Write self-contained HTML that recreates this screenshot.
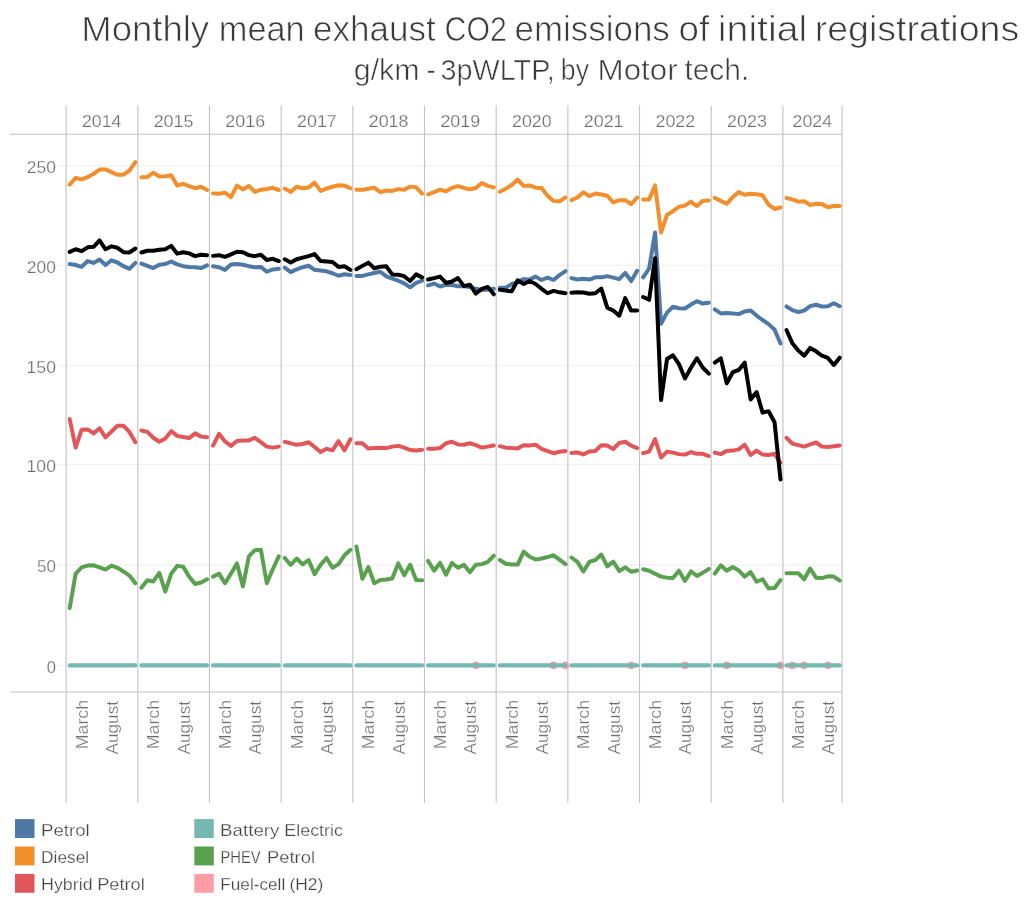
<!DOCTYPE html>
<html><head><meta charset="utf-8"><title>Monthly mean exhaust CO2 emissions</title>
<style>html,body{margin:0;padding:0;background:#fff;}body{width:1024px;height:898px;overflow:hidden;font-family:"Liberation Sans",sans-serif;}svg{display:block;will-change:transform;}.t{filter:grayscale(1);}text{font-family:"Liberation Sans",sans-serif;}</style></head><body>
<svg width="1024" height="898" viewBox="0 0 1024 898">
<rect width="1024" height="898" fill="#ffffff"/>
<g class="t" fill="#3a3a3a" stroke="#ffffff" stroke-width="0.7">
<text x="81.25" y="40.60" font-size="34.5" textLength="127.85" lengthAdjust="spacingAndGlyphs">Monthly</text>
<text x="218.75" y="40.60" font-size="34.5" textLength="85.98" lengthAdjust="spacingAndGlyphs">mean</text>
<text x="313.00" y="40.60" font-size="34.5" textLength="122.78" lengthAdjust="spacingAndGlyphs">exhaust</text>
<text x="444.58" y="40.60" font-size="34.5" textLength="62.25" lengthAdjust="spacingAndGlyphs">CO2</text>
<text x="514.51" y="40.60" font-size="34.5" textLength="155.33" lengthAdjust="spacingAndGlyphs">emissions</text>
<text x="678.55" y="40.60" font-size="34.5" textLength="30.73" lengthAdjust="spacingAndGlyphs">of</text>
<text x="717.85" y="40.60" font-size="34.5" textLength="89.44" lengthAdjust="spacingAndGlyphs">initial</text>
<text x="814.75" y="40.60" font-size="34.5" textLength="204.42" lengthAdjust="spacingAndGlyphs">registrations</text>
</g><g class="t" fill="#3a3a3a" stroke="#ffffff" stroke-width="0.55">
<text x="353.75" y="80.40" font-size="28.7" textLength="65.93" lengthAdjust="spacingAndGlyphs">g/km</text>
<text x="426.62" y="80.40" font-size="28.7" textLength="9.40" lengthAdjust="spacingAndGlyphs">-</text>
<text x="440.60" y="80.40" font-size="28.7" textLength="114.05" lengthAdjust="spacingAndGlyphs">3pWLTP,</text>
<text x="560.83" y="80.40" font-size="28.7" textLength="28.17" lengthAdjust="spacingAndGlyphs">by</text>
<text x="597.55" y="80.40" font-size="28.7" textLength="80.10" lengthAdjust="spacingAndGlyphs">Motor</text>
<text x="684.40" y="80.40" font-size="28.7" textLength="64.80" lengthAdjust="spacingAndGlyphs">tech.</text>
</g>
<g stroke="#f1f1f1" stroke-width="1.3">
<line x1="58" y1="565.00" x2="842.06" y2="565.00"/>
<line x1="58" y1="464.60" x2="842.06" y2="464.60"/>
<line x1="58" y1="365.50" x2="842.06" y2="365.50"/>
<line x1="58" y1="265.30" x2="842.06" y2="265.30"/>
<line x1="58" y1="165.80" x2="842.06" y2="165.80"/>
<line x1="58" y1="665.40" x2="66.10" y2="665.40"/>
</g>
<g stroke="#c2c2c2" stroke-width="1.1">
<line x1="66.10" y1="105.6" x2="66.10" y2="802.8"/>
<line x1="137.78" y1="105.6" x2="137.78" y2="802.8"/>
<line x1="209.46" y1="105.6" x2="209.46" y2="802.8"/>
<line x1="281.14" y1="105.6" x2="281.14" y2="802.8"/>
<line x1="352.82" y1="105.6" x2="352.82" y2="802.8"/>
<line x1="424.50" y1="105.6" x2="424.50" y2="802.8"/>
<line x1="496.18" y1="105.6" x2="496.18" y2="802.8"/>
<line x1="567.86" y1="105.6" x2="567.86" y2="802.8"/>
<line x1="639.54" y1="105.6" x2="639.54" y2="802.8"/>
<line x1="711.22" y1="105.6" x2="711.22" y2="802.8"/>
<line x1="782.90" y1="105.6" x2="782.90" y2="802.8"/>
<line x1="842.06" y1="105.6" x2="842.06" y2="802.8"/>
<line x1="10.2" y1="134.3" x2="842.06" y2="134.3"/>
<line x1="10.2" y1="692.05" x2="842.06" y2="692.05"/>
</g>
<g class="t" fill="#6c6c6c" stroke="#ffffff" stroke-width="0.25">
<text x="82.01" y="127.30" font-size="17.25" textLength="39.47" lengthAdjust="spacingAndGlyphs">2014</text>
<text x="153.68" y="127.30" font-size="17.25" textLength="39.76" lengthAdjust="spacingAndGlyphs">2015</text>
<text x="225.36" y="127.30" font-size="17.25" textLength="39.76" lengthAdjust="spacingAndGlyphs">2016</text>
<text x="297.04" y="127.30" font-size="17.25" textLength="39.76" lengthAdjust="spacingAndGlyphs">2017</text>
<text x="368.72" y="127.30" font-size="17.25" textLength="39.76" lengthAdjust="spacingAndGlyphs">2018</text>
<text x="440.40" y="127.30" font-size="17.25" textLength="39.76" lengthAdjust="spacingAndGlyphs">2019</text>
<text x="512.09" y="127.30" font-size="17.25" textLength="39.47" lengthAdjust="spacingAndGlyphs">2020</text>
<text x="583.76" y="127.30" font-size="17.25" textLength="39.76" lengthAdjust="spacingAndGlyphs">2021</text>
<text x="655.44" y="127.30" font-size="17.25" textLength="39.76" lengthAdjust="spacingAndGlyphs">2022</text>
<text x="727.12" y="127.30" font-size="17.25" textLength="39.76" lengthAdjust="spacingAndGlyphs">2023</text>
<text x="792.55" y="127.30" font-size="17.25" textLength="39.47" lengthAdjust="spacingAndGlyphs">2024</text>
</g>
<g class="t" fill="#6c6c6c" stroke="#ffffff" stroke-width="0.25">
<text x="46.68" y="672.80" font-size="17.25" textLength="9.23" lengthAdjust="spacingAndGlyphs">0</text>
<text x="37.07" y="572.40" font-size="17.25" textLength="18.85" lengthAdjust="spacingAndGlyphs">50</text>
<text x="26.60" y="472.00" font-size="17.25" textLength="29.34" lengthAdjust="spacingAndGlyphs">100</text>
<text x="26.60" y="372.90" font-size="17.25" textLength="29.34" lengthAdjust="spacingAndGlyphs">150</text>
<text x="26.88" y="272.70" font-size="17.25" textLength="29.05" lengthAdjust="spacingAndGlyphs">200</text>
<text x="26.88" y="173.20" font-size="17.25" textLength="29.05" lengthAdjust="spacingAndGlyphs">250</text>
</g>
<g class="t" fill="#6c6c6c" stroke="#ffffff" stroke-width="0.25">
<text x="-749.19" y="0.00" font-size="16.6" textLength="49.28" lengthAdjust="spacingAndGlyphs" transform="translate(87.53 0) rotate(-90)">March</text>
<text x="-754.50" y="0.00" font-size="16.6" textLength="53.54" lengthAdjust="spacingAndGlyphs" transform="translate(118.00 0) rotate(-90)">August</text>
<text x="-749.19" y="0.00" font-size="16.6" textLength="49.28" lengthAdjust="spacingAndGlyphs" transform="translate(159.21 0) rotate(-90)">March</text>
<text x="-754.50" y="0.00" font-size="16.6" textLength="53.54" lengthAdjust="spacingAndGlyphs" transform="translate(189.68 0) rotate(-90)">August</text>
<text x="-749.19" y="0.00" font-size="16.6" textLength="49.28" lengthAdjust="spacingAndGlyphs" transform="translate(230.89 0) rotate(-90)">March</text>
<text x="-754.50" y="0.00" font-size="16.6" textLength="53.54" lengthAdjust="spacingAndGlyphs" transform="translate(261.36 0) rotate(-90)">August</text>
<text x="-749.19" y="0.00" font-size="16.6" textLength="49.28" lengthAdjust="spacingAndGlyphs" transform="translate(302.57 0) rotate(-90)">March</text>
<text x="-754.50" y="0.00" font-size="16.6" textLength="53.54" lengthAdjust="spacingAndGlyphs" transform="translate(333.04 0) rotate(-90)">August</text>
<text x="-749.19" y="0.00" font-size="16.6" textLength="49.28" lengthAdjust="spacingAndGlyphs" transform="translate(374.25 0) rotate(-90)">March</text>
<text x="-754.50" y="0.00" font-size="16.6" textLength="53.54" lengthAdjust="spacingAndGlyphs" transform="translate(404.72 0) rotate(-90)">August</text>
<text x="-749.19" y="0.00" font-size="16.6" textLength="49.28" lengthAdjust="spacingAndGlyphs" transform="translate(445.93 0) rotate(-90)">March</text>
<text x="-754.50" y="0.00" font-size="16.6" textLength="53.54" lengthAdjust="spacingAndGlyphs" transform="translate(476.40 0) rotate(-90)">August</text>
<text x="-749.19" y="0.00" font-size="16.6" textLength="49.28" lengthAdjust="spacingAndGlyphs" transform="translate(517.61 0) rotate(-90)">March</text>
<text x="-754.50" y="0.00" font-size="16.6" textLength="53.54" lengthAdjust="spacingAndGlyphs" transform="translate(548.08 0) rotate(-90)">August</text>
<text x="-749.19" y="0.00" font-size="16.6" textLength="49.28" lengthAdjust="spacingAndGlyphs" transform="translate(589.29 0) rotate(-90)">March</text>
<text x="-754.50" y="0.00" font-size="16.6" textLength="53.54" lengthAdjust="spacingAndGlyphs" transform="translate(619.76 0) rotate(-90)">August</text>
<text x="-749.19" y="0.00" font-size="16.6" textLength="49.28" lengthAdjust="spacingAndGlyphs" transform="translate(660.97 0) rotate(-90)">March</text>
<text x="-754.50" y="0.00" font-size="16.6" textLength="53.54" lengthAdjust="spacingAndGlyphs" transform="translate(691.44 0) rotate(-90)">August</text>
<text x="-749.19" y="0.00" font-size="16.6" textLength="49.28" lengthAdjust="spacingAndGlyphs" transform="translate(732.65 0) rotate(-90)">March</text>
<text x="-754.50" y="0.00" font-size="16.6" textLength="53.54" lengthAdjust="spacingAndGlyphs" transform="translate(763.12 0) rotate(-90)">August</text>
<text x="-749.19" y="0.00" font-size="16.6" textLength="49.28" lengthAdjust="spacingAndGlyphs" transform="translate(804.19 0) rotate(-90)">March</text>
<text x="-754.50" y="0.00" font-size="16.6" textLength="53.54" lengthAdjust="spacingAndGlyphs" transform="translate(834.37 0) rotate(-90)">August</text>
</g>
<g fill="#ff9da7">
<circle cx="475.87" cy="665.40" r="3.8"/>
<circle cx="553.53" cy="665.40" r="3.8"/>
<circle cx="565.47" cy="665.40" r="3.8"/>
<circle cx="631.18" cy="665.40" r="3.8"/>
<circle cx="684.94" cy="665.40" r="3.8"/>
<circle cx="726.75" cy="665.40" r="3.8"/>
<circle cx="780.51" cy="665.40" r="3.8"/>
<circle cx="792.37" cy="665.40" r="3.8"/>
<circle cx="804.21" cy="665.40" r="3.8"/>
<circle cx="827.87" cy="665.40" r="3.8"/>
</g>
<path d="M69.69 665.40 L75.66 665.40 L81.63 665.40 L87.61 665.40 L93.58 665.40 L99.55 665.40 L105.53 665.40 L111.50 665.40 L117.47 665.40 L123.45 665.40 L129.42 665.40 L135.39 665.40 M141.37 665.40 L147.34 665.40 L153.31 665.40 L159.29 665.40 L165.26 665.40 L171.23 665.40 L177.21 665.40 L183.18 665.40 L189.15 665.40 L195.13 665.40 L201.10 665.40 L207.07 665.40 M213.05 665.40 L219.02 665.40 L224.99 665.40 L230.97 665.40 L236.94 665.40 L242.91 665.40 L248.89 665.40 L254.86 665.40 L260.83 665.40 L266.81 665.40 L272.78 665.40 L278.75 665.40 M284.73 665.40 L290.70 665.40 L296.67 665.40 L302.65 665.40 L308.62 665.40 L314.59 665.40 L320.57 665.40 L326.54 665.40 L332.51 665.40 L338.49 665.40 L344.46 665.40 L350.43 665.40 M356.41 665.40 L362.38 665.40 L368.35 665.40 L374.33 665.40 L380.30 665.40 L386.27 665.40 L392.25 665.40 L398.22 665.40 L404.19 665.40 L410.17 665.40 L416.14 665.40 L422.11 665.40 M428.09 665.40 L434.06 665.40 L440.03 665.40 L446.01 665.40 L451.98 665.40 L457.95 665.40 L463.93 665.40 L469.90 665.40 L475.87 665.40 L481.85 665.40 L487.82 665.40 L493.79 665.40 M499.77 665.40 L505.74 665.40 L511.71 665.40 L517.69 665.40 L523.66 665.40 L529.63 665.40 L535.61 665.40 L541.58 665.40 L547.55 665.40 L553.53 665.40 L559.50 665.40 L565.47 665.40 M571.45 665.40 L577.42 665.40 L583.39 665.40 L589.37 665.40 L595.34 665.40 L601.31 665.40 L607.29 665.40 L613.26 665.40 L619.23 665.40 L625.21 665.40 L631.18 665.40 L637.15 665.40 M643.13 665.40 L649.10 665.40 L655.07 665.40 L661.05 665.40 L667.02 665.40 L672.99 665.40 L678.97 665.40 L684.94 665.40 L690.91 665.40 L696.89 665.40 L702.86 665.40 L708.83 665.40 M714.81 665.40 L720.78 665.40 L726.75 665.40 L732.73 665.40 L738.70 665.40 L744.67 665.40 L750.65 665.40 L756.62 665.40 L762.59 665.40 L768.57 665.40 L774.54 665.40 L780.51 665.40 M786.46 665.40 L792.37 665.40 L798.29 665.40 L804.21 665.40 L810.12 665.40 L816.04 665.40 L821.95 665.40 L827.87 665.40 L833.79 665.40 L839.70 665.40" fill="none" stroke="#76b7b2" stroke-width="4.2" stroke-linecap="round" stroke-linejoin="round"/>
<path d="M69.69 607.94 L75.66 573.68 L81.63 567.35 L87.61 565.59 L93.58 565.29 L99.55 567.35 L105.53 569.56 L111.50 565.59 L117.47 567.79 L123.45 571.47 L129.42 575.59 L135.39 583.24 M141.37 587.65 L147.34 580.29 L153.31 581.47 L159.29 572.94 L165.26 591.62 L171.23 573.68 L177.21 565.88 L183.18 566.76 L189.15 576.62 L195.13 583.97 L201.10 582.50 L207.07 579.26 M213.05 576.62 L219.02 573.68 L224.99 583.24 L230.97 573.68 L236.94 563.38 L242.91 586.47 L248.89 556.47 L254.86 550.15 L260.83 549.71 L266.81 583.24 L272.78 569.26 L278.75 556.32 M284.73 557.94 L290.70 564.85 L296.67 558.53 L302.65 564.41 L308.62 560.00 L314.59 574.12 L320.57 564.85 L326.54 557.94 L332.51 567.79 L338.49 564.12 L344.46 555.29 L350.43 549.85 M356.41 546.47 L362.38 578.82 L368.35 567.06 L374.33 583.24 L380.30 580.00 L386.27 579.56 L392.25 578.53 L398.22 563.38 L404.19 575.15 L410.17 564.85 L416.14 580.00 L422.11 580.29 M428.09 560.88 L434.06 570.74 L440.03 562.94 L446.01 574.71 L451.98 562.94 L457.95 567.79 L463.93 564.85 L469.90 572.21 L475.87 564.85 L481.85 564.12 L487.82 561.91 L493.79 555.74 M499.77 560.00 L505.74 563.68 L511.71 564.41 L517.69 564.56 L523.66 551.62 L529.63 556.76 L535.61 559.41 L541.58 558.53 L547.55 557.06 L553.53 555.29 L559.50 559.71 L565.47 564.12 M571.45 557.50 L577.42 561.91 L583.39 571.47 L589.37 561.91 L595.34 560.00 L601.31 554.56 L607.29 566.32 L613.26 561.62 L619.23 571.03 L625.21 567.35 L631.18 571.76 L637.15 570.44 M643.13 569.26 L649.10 570.74 L655.07 573.68 L661.05 576.62 L667.02 577.65 L672.99 578.09 L678.97 570.74 L684.94 581.03 L690.91 571.47 L696.89 575.88 L702.86 572.65 L708.83 568.97 M714.81 573.68 L720.78 565.29 L726.75 570.74 L732.73 567.06 L738.70 570.44 L744.67 576.62 L750.65 572.21 L756.62 581.76 L762.59 579.26 L768.57 588.38 L774.54 587.94 L780.51 580.00 M786.46 573.24 L792.37 573.24 L798.29 573.24 L804.21 579.26 L810.12 568.53 L816.04 577.65 L821.95 578.09 L827.87 576.32 L833.79 576.62 L839.70 580.59" fill="none" stroke="#59a14f" stroke-width="4.0" stroke-linecap="round" stroke-linejoin="round"/>
<path d="M69.69 419.12 L75.66 447.65 L81.63 429.71 L87.61 429.41 L93.58 433.38 L99.55 428.24 L105.53 437.35 L111.50 431.47 L117.47 425.74 L123.45 425.74 L129.42 431.91 L135.39 442.21 M141.37 430.44 L147.34 431.91 L153.31 437.79 L159.29 441.76 L165.26 438.53 L171.23 431.18 L177.21 435.88 L183.18 437.06 L189.15 438.09 L195.13 433.38 L201.10 436.62 L207.07 437.35 M213.05 445.59 L219.02 433.82 L224.99 441.47 L230.97 445.88 L236.94 441.03 L242.91 440.44 L248.89 440.44 L254.86 437.79 L260.83 442.21 L266.81 446.62 L272.78 447.65 L278.75 446.62 M284.73 441.76 L290.70 443.38 L296.67 444.85 L302.65 443.97 L308.62 442.21 L314.59 447.06 L320.57 452.06 L326.54 448.82 L332.51 450.29 L338.49 441.18 L344.46 450.29 L350.43 439.26 M356.41 443.24 L362.38 443.24 L368.35 448.53 L374.33 448.09 L380.30 447.79 L386.27 448.09 L392.25 446.62 L398.22 445.88 L404.19 447.65 L410.17 450.00 L416.14 450.59 L422.11 449.85 M428.09 448.82 L434.06 448.82 L440.03 448.09 L446.01 443.24 L451.98 441.76 L457.95 444.41 L463.93 444.71 L469.90 443.24 L475.87 445.15 L481.85 447.65 L487.82 446.62 L493.79 445.59 M499.77 446.18 L505.74 447.65 L511.71 448.09 L517.69 448.38 L523.66 445.15 L529.63 445.59 L535.61 444.71 L541.58 448.82 L547.55 451.03 L553.53 453.24 L559.50 451.76 L565.47 451.03 M571.45 452.94 L577.42 452.50 L583.39 454.41 L589.37 451.47 L595.34 451.03 L601.31 445.15 L607.29 445.59 L613.26 449.12 L619.23 442.94 L625.21 441.76 L631.18 445.59 L637.15 448.09 M643.13 453.09 L649.10 451.62 L655.07 439.12 L661.05 457.50 L667.02 451.62 L672.99 452.65 L678.97 454.12 L684.94 454.56 L690.91 452.06 L696.89 453.82 L702.86 453.82 L708.83 456.03 M714.81 452.65 L720.78 454.12 L726.75 450.88 L732.73 450.59 L738.70 449.41 L744.67 444.71 L750.65 455.00 L756.62 450.59 L762.59 454.56 L768.57 455.00 L774.54 453.82 L780.51 462.94 M786.46 437.79 L792.37 443.68 L798.29 445.15 L804.21 446.62 L810.12 444.41 L816.04 442.50 L821.95 446.62 L827.87 446.91 L833.79 446.18 L839.70 445.44" fill="none" stroke="#e15759" stroke-width="4.0" stroke-linecap="round" stroke-linejoin="round"/>
<path d="M69.69 184.56 L75.66 177.94 L81.63 179.41 L87.61 177.21 L93.58 173.82 L99.55 169.56 L105.53 169.41 L111.50 172.06 L117.47 174.71 L123.45 174.71 L129.42 170.59 L135.39 162.06 M141.37 177.21 L147.34 176.91 L153.31 172.79 L159.29 176.47 L165.26 176.18 L171.23 175.29 L177.21 185.59 L183.18 183.82 L189.15 186.03 L195.13 188.24 L201.10 186.76 L207.07 190.00 M213.05 193.38 L219.02 193.82 L224.99 192.65 L230.97 197.06 L236.94 185.59 L242.91 189.41 L248.89 186.03 L254.86 191.91 L260.83 189.71 L266.81 188.97 L272.78 187.79 L278.75 190.00 M284.73 188.53 L290.70 191.91 L296.67 186.76 L302.65 188.24 L308.62 187.50 L314.59 182.65 L320.57 190.88 L326.54 188.53 L332.51 186.76 L338.49 185.29 L344.46 185.59 L350.43 188.24 M356.41 189.85 L362.38 189.85 L368.35 188.82 L374.33 187.65 L380.30 192.06 L386.27 190.59 L392.25 190.88 L398.22 189.12 L404.19 189.85 L410.17 186.62 L416.14 187.35 L422.11 193.53 M428.09 194.26 L434.06 192.06 L440.03 189.56 L446.01 191.32 L451.98 187.94 L457.95 186.18 L463.93 187.94 L469.90 189.41 L475.87 187.94 L481.85 182.94 L487.82 185.88 L493.79 187.35 M499.77 191.76 L505.74 188.82 L511.71 185.00 L517.69 179.56 L523.66 185.88 L529.63 185.44 L535.61 187.65 L541.58 187.94 L547.55 195.74 L553.53 200.88 L559.50 201.32 L565.47 197.50 M571.45 200.15 L577.42 197.50 L583.39 192.35 L589.37 196.18 L595.34 193.53 L601.31 194.56 L607.29 195.74 L613.26 202.35 L619.23 200.15 L625.21 200.15 L631.18 204.12 L637.15 197.50 M643.13 199.41 L649.10 199.41 L655.07 185.44 L661.05 232.50 L667.02 214.85 L672.99 211.18 L678.97 206.76 L684.94 205.59 L690.91 201.62 L696.89 206.03 L702.86 200.88 L708.83 200.44 M714.81 197.94 L720.78 200.88 L726.75 203.82 L732.73 197.21 L738.70 192.06 L744.67 194.71 L750.65 193.82 L756.62 194.26 L762.59 195.29 L768.57 204.56 L774.54 208.97 L780.51 207.50 M786.46 197.94 L792.37 199.41 L798.29 201.62 L804.21 201.18 L810.12 205.00 L816.04 203.82 L821.95 204.12 L827.87 207.21 L833.79 206.03 L839.70 206.03" fill="none" stroke="#f28e2b" stroke-width="4.0" stroke-linecap="round" stroke-linejoin="round"/>
<path d="M69.69 263.97 L75.66 265.00 L81.63 266.91 L87.61 261.03 L93.58 262.94 L99.55 259.56 L105.53 265.00 L111.50 260.29 L117.47 262.50 L123.45 266.18 L129.42 268.82 L135.39 262.94 M141.37 263.68 L147.34 265.88 L153.31 268.09 L159.29 264.71 L165.26 263.97 L171.23 261.47 L177.21 264.41 L183.18 266.18 L189.15 266.91 L195.13 267.35 L201.10 268.09 L207.07 265.44 M213.05 266.18 L219.02 267.21 L224.99 269.85 L230.97 264.41 L236.94 263.97 L242.91 264.71 L248.89 266.18 L254.86 267.21 L260.83 266.91 L266.81 271.76 L272.78 269.41 L278.75 268.82 M284.73 267.65 L290.70 272.06 L296.67 269.41 L302.65 267.21 L308.62 265.74 L314.59 269.85 L320.57 270.59 L326.54 271.32 L332.51 273.24 L338.49 275.74 L344.46 274.26 L350.43 275.00 M356.41 275.88 L362.38 275.88 L368.35 274.41 L374.33 272.94 L380.30 271.76 L386.27 276.32 L392.25 278.53 L398.22 280.74 L404.19 283.38 L410.17 287.35 L416.14 282.94 L422.11 280.74 M428.09 285.44 L434.06 283.53 L440.03 286.47 L446.01 284.71 L451.98 285.00 L457.95 286.18 L463.93 286.18 L469.90 286.91 L475.87 288.82 L481.85 289.85 L487.82 289.85 L493.79 288.82 M499.77 287.65 L505.74 287.65 L511.71 283.97 L517.69 282.06 L523.66 279.12 L529.63 279.56 L535.61 276.62 L541.58 280.00 L547.55 277.65 L553.53 280.00 L559.50 275.15 L565.47 271.18 M571.45 278.09 L577.42 279.56 L583.39 278.82 L589.37 279.56 L595.34 277.35 L601.31 277.35 L607.29 276.18 L613.26 277.65 L619.23 279.12 L625.21 272.94 L631.18 281.03 L637.15 270.74 M643.13 277.40 L649.10 268.50 L655.07 232.50 L661.05 323.68 L667.02 312.65 L672.99 306.76 L678.97 308.24 L684.94 308.53 L690.91 304.56 L696.89 301.18 L702.86 303.53 L708.83 302.65 M714.81 309.41 L720.78 313.38 L726.75 313.09 L732.73 313.38 L738.70 314.12 L744.67 311.47 L750.65 310.44 L756.62 315.59 L762.59 320.00 L768.57 324.12 L774.54 329.56 L780.51 343.53 M786.46 306.47 L792.37 310.15 L798.29 312.06 L804.21 310.59 L810.12 306.18 L816.04 304.71 L821.95 306.47 L827.87 306.18 L833.79 303.24 L839.70 306.18" fill="none" stroke="#4e79a7" stroke-width="4.0" stroke-linecap="round" stroke-linejoin="round"/>
<path d="M69.69 251.91 L75.66 249.26 L81.63 251.18 L87.61 247.35 L93.58 246.76 L99.55 240.44 L105.53 249.26 L111.50 246.32 L117.47 247.79 L123.45 252.21 L129.42 252.50 L135.39 248.53 M141.37 252.50 L147.34 250.74 L153.31 250.74 L159.29 249.71 L165.26 249.26 L171.23 245.88 L177.21 253.68 L183.18 252.21 L189.15 253.38 L195.13 256.18 L201.10 254.71 L207.07 255.15 M213.05 255.88 L219.02 255.15 L224.99 256.91 L230.97 254.41 L236.94 251.76 L242.91 252.21 L248.89 255.15 L254.86 256.18 L260.83 254.71 L266.81 260.00 L272.78 258.82 L278.75 261.03 M284.73 259.26 L290.70 262.50 L296.67 259.26 L302.65 257.65 L308.62 256.18 L314.59 254.12 L320.57 261.03 L326.54 261.47 L332.51 262.06 L338.49 266.91 L344.46 266.18 L350.43 269.85 M356.41 269.26 L362.38 265.88 L368.35 262.65 L374.33 268.24 L380.30 266.76 L386.27 266.32 L392.25 274.41 L398.22 274.71 L404.19 276.18 L410.17 281.03 L416.14 274.41 L422.11 277.35 M428.09 279.56 L434.06 278.09 L440.03 276.62 L446.01 282.94 L451.98 281.47 L457.95 278.09 L463.93 286.18 L469.90 284.71 L475.87 293.53 L481.85 288.82 L487.82 286.91 L493.79 294.26 M499.77 289.85 L505.74 290.59 L511.71 291.32 L517.69 280.29 L523.66 283.97 L529.63 281.03 L535.61 283.97 L541.58 288.82 L547.55 293.24 L553.53 290.88 L559.50 292.35 L565.47 293.24 M571.45 292.65 L577.42 292.21 L583.39 292.50 L589.37 293.68 L595.34 293.24 L601.31 288.53 L607.29 307.65 L613.26 310.59 L619.23 315.74 L625.21 298.09 L631.18 310.59 L637.15 310.59 M643.13 297.00 L649.10 299.80 L655.07 258.20 L661.05 400.10 L667.02 358.97 L672.99 355.29 L678.97 364.12 L684.94 378.53 L690.91 367.79 L696.89 358.24 L702.86 367.79 L708.83 373.68 M714.81 362.65 L720.78 358.24 L726.75 383.24 L732.73 372.21 L738.70 370.00 L744.67 362.65 L750.65 399.41 L756.62 392.06 L762.59 412.65 L768.57 411.18 L774.54 422.21 L780.51 479.56 M786.46 330.00 L792.37 343.24 L798.29 350.59 L804.21 355.74 L810.12 347.94 L816.04 351.32 L821.95 355.74 L827.87 357.94 L833.79 365.00 L839.70 357.65" fill="none" stroke="#000000" stroke-width="4.0" stroke-linecap="round" stroke-linejoin="round"/>
<rect x="15.0" y="819.1" width="19.5" height="18.9" fill="#4e79a7"/>
<rect x="15.0" y="846.5" width="19.5" height="18.9" fill="#f28e2b"/>
<rect x="15.0" y="873.9" width="19.5" height="18.9" fill="#e15759"/>
<rect x="194.3" y="819.1" width="19.5" height="18.9" fill="#76b7b2"/>
<rect x="194.3" y="846.5" width="19.5" height="18.9" fill="#59a14f"/>
<rect x="194.3" y="873.9" width="19.5" height="18.9" fill="#ff9da7"/>
<g class="t" fill="#444444" stroke="#ffffff" stroke-width="0.25">
<text x="40.94" y="835.50" font-size="17" textLength="48.79" lengthAdjust="spacingAndGlyphs">Petrol</text>
<text x="41.05" y="862.90" font-size="17" textLength="48.09" lengthAdjust="spacingAndGlyphs">Diesel</text>
<text x="41.00" y="890.30" font-size="17" textLength="51.60" lengthAdjust="spacingAndGlyphs">Hybrid</text>
<text x="97.18" y="890.30" font-size="17" textLength="47.63" lengthAdjust="spacingAndGlyphs">Petrol</text>
<text x="220.14" y="835.50" font-size="17" textLength="59.26" lengthAdjust="spacingAndGlyphs">Battery</text>
<text x="284.30" y="835.50" font-size="17" textLength="58.68" lengthAdjust="spacingAndGlyphs">Electric</text>
<text x="220.45" y="862.90" font-size="17" textLength="40.18" lengthAdjust="spacingAndGlyphs">PHEV</text>
<text x="267.07" y="862.90" font-size="17" textLength="47.94" lengthAdjust="spacingAndGlyphs">Petrol</text>
<text x="220.26" y="890.30" font-size="17" textLength="64.98" lengthAdjust="spacingAndGlyphs">Fuel-cell</text>
<text x="289.48" y="890.30" font-size="17" textLength="33.82" lengthAdjust="spacingAndGlyphs">(H2)</text>
</g>
</svg></body></html>
